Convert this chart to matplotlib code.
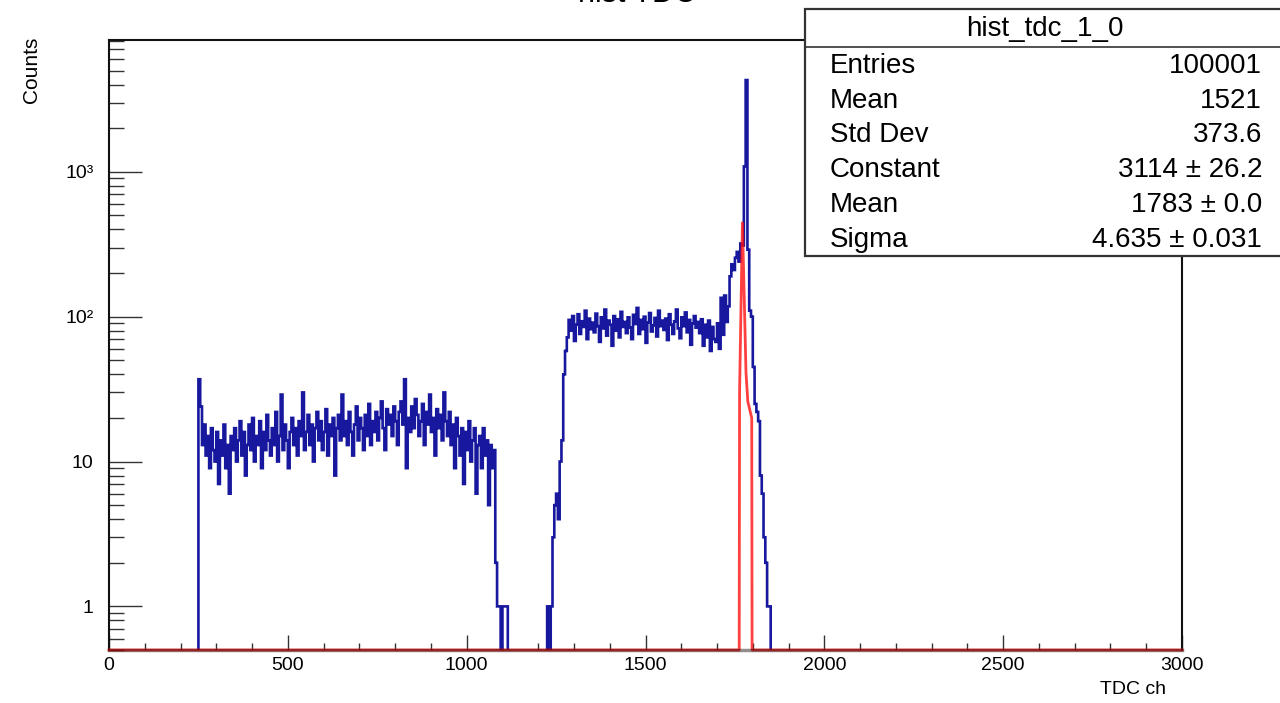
import numpy as np
import matplotlib
matplotlib.use('Agg')
import matplotlib.pyplot as plt
from matplotlib.patches import Rectangle
from matplotlib.lines import Line2D
from matplotlib.ticker import FixedLocator, FixedFormatter, NullFormatter, MultipleLocator, LogLocator

plt.rcParams['font.family'] = ['Liberation Sans', 'DejaVu Sans']

# ---------------- data ----------------
bin_width = 5
x_start = 250
counts = [
    37, 24, 13, 18, 11, 15, 9, 17, 12, 10, 16, 7, 14, 11, 18, 9, 13, 6, 15, 12,          # 250-350
    17, 10, 14, 19, 11, 16, 8, 13, 18, 12, 20, 10, 15, 13, 19, 9, 16, 12, 21, 14,         # 350-450
    11, 17, 13, 22, 10, 15, 29, 12, 18, 14, 9, 16, 20, 13, 17, 11, 19, 15, 30, 12,        # 450-550
    16, 21, 13, 18, 10, 17, 22, 14, 19, 12, 16, 23, 11, 18, 15, 20, 8, 17, 21, 14,        # 550-650
    29, 15, 19, 13, 22, 16, 11, 18, 24, 14, 20, 17, 12, 21, 15, 25, 13, 19, 16, 22,       # 650-750
    14, 20, 26, 17, 12, 23, 18, 21, 15, 24, 19, 13, 22, 26, 18, 37, 9, 20, 16, 24,        # 750-850
    17, 27, 21, 15, 19, 25, 13, 22, 18, 29, 16, 20, 11, 23, 17, 21, 14, 30, 19, 15,       # 850-950
    22, 13, 18, 9, 20, 15, 11, 17, 7, 16, 12, 19, 10, 14, 17, 6, 13, 15, 9, 17,           # 950-1050
    11, 14, 5, 13, 9, 12, 2, 1, 1, 0, 1, 1, 1, 0, 0, 0, 0, 0, 0, 0,                       # 1050-1150
    0, 0, 0, 0, 0, 0, 0, 0, 0, 0, 0, 0, 0, 0, 0, 1, 0, 1, 3, 5,                           # 1150-1250
    6, 4, 10, 14, 40, 58, 72, 95, 80, 101, 68, 88, 104, 76, 93, 85, 110, 70, 97, 82,      # 1250-1350
    91, 78, 105, 86, 67, 99, 83, 112, 74, 94, 88, 63, 101, 80, 96, 72, 108, 85, 92, 77,   # 1350-1450
    99, 84, 70, 103, 89, 115, 76, 95, 82, 100, 66, 91, 106, 79, 87, 98, 73, 110, 86, 94,  # 1450-1550
    81, 97, 69, 104, 88, 76, 93, 112, 83, 71, 99, 86, 107, 78, 95, 64, 90, 101, 84, 92,   # 1550-1650
    77, 96, 63, 88, 72, 94, 58, 85, 70, 67, 90, 60, 135, 75, 140, 92, 118, 190, 230, 210, # 1650-1750
    255, 280, 240, 320, 310, 1090, 4300, 290, 110, 100, 45, 25, 22, 19, 8, 6, 3, 2, 1, 1, # 1750-1850
]
fit_x = [0, 1762, 1763, 1771, 1776, 1781, 1786, 1797, 1798, 3000]
fit_y = [0.5, 0.5, 30, 445, 137, 41, 26, 20, 0.5, 0.5]

x_ticks = [0, 500, 1000, 1500, 2000, 2500, 3000]
y_ticks = [1, 10, 100, 1000]
y_tick_labels = ['1', '10', '10\u00b2', '10\u00b3']

hist_title = 'hist TDC'
stats_name = 'hist_tdc_1_0'
stats_labels = ['Entries', 'Mean', 'Std Dev', 'Constant', 'Mean', 'Sigma']
stats_values = ['100001', '1521', '373.6', '3114 \u00b1 26.2', '1783 \u00b1 0.0', '4.635 \u00b1 0.031']

# ---------------- figure ----------------
W, H = 1280, 703
fig = plt.figure(figsize=(W / 100, H / 100), dpi=100)
ax = fig.add_axes([109 / W, 1 - 650 / H, (1182 - 109) / W, (650 - 40) / H])
ax.set_yscale('log')
ax.set_xlim(0, 3000)
ax.set_ylim(0.5, 8130)

edges = np.arange(0, 3000 + bin_width, bin_width)
full = np.zeros(len(edges) - 1)
i0 = x_start // bin_width
full[i0:i0 + len(counts)] = counts
plot_vals = np.where(full > 0, full, 1e-3)
ax.stairs(plot_vals, edges, color='#18189e', lw=1.9, baseline=None, zorder=3)

ax.plot(fit_x, fit_y, color='#ff1010', lw=2.0, alpha=0.8, clip_on=False, zorder=6)

for s in ax.spines.values():
    s.set_linewidth(1.5)
    s.set_color('#111111')
ax.spines['bottom'].set_color((0.1, 0.0, 0.0, 0.45))
ax.spines['bottom'].set_linewidth(2.5)
ax.spines['bottom'].set_zorder(7)

ax.xaxis.set_major_locator(FixedLocator(x_ticks))
ax.xaxis.set_minor_locator(MultipleLocator(100))
ax.yaxis.set_major_locator(FixedLocator(y_ticks))
ax.yaxis.set_major_formatter(FixedFormatter(y_tick_labels))
ax.yaxis.set_minor_locator(LogLocator(base=10, subs=np.arange(2, 10), numticks=20))
ax.yaxis.set_minor_formatter(NullFormatter())

ax.tick_params(axis='x', which='major', direction='in', length=10.5, width=1.0,
               top=False, labelsize=14, pad=5, color='#333333')
ax.tick_params(axis='x', which='minor', direction='in', length=5, width=1.0,
               top=False, color='#333333')
ax.tick_params(axis='y', which='major', direction='in', length=24, width=1.0,
               right=False, labelsize=14, pad=11, color='#333333')
ax.tick_params(axis='y', which='minor', direction='in', length=11, width=1.0,
               right=False, color='#333333')

fig.text(31 / W, 1 - 37 / H, 'Counts', rotation=90, ha='center', va='top', fontsize=15)
fig.text(1166 / W, 1 - 690 / H, 'TDC ch', ha='right', va='center', fontsize=14)
fig.text(637 / W, 1 - 1.5 / H, hist_title, ha='center', va='baseline', fontsize=22)

# stats box
box = Rectangle((805 / W, 1 - 256 / H), (1295 - 805) / W, (256 - 9) / H,
                transform=fig.transFigure, facecolor='white', edgecolor='#333333',
                lw=1.6, zorder=10)
fig.add_artist(box)
sep = Line2D([805 / W, 1280 / W], [1 - 47 / H, 1 - 47 / H], transform=fig.transFigure,
             color='#333333', lw=1.2, zorder=11)
fig.add_artist(sep)
t = fig.text(1045 / W, 1 - 29 / H, stats_name, ha='center', va='center', fontsize=20)
t.set_zorder(12)
rows_y = [66, 101, 135, 170, 205, 240]
for lab, val, yy in zip(stats_labels, stats_values, rows_y):
    a = fig.text(830 / W, 1 - yy / H, lab, ha='left', va='center', fontsize=20)
    b = fig.text(1262 / W, 1 - yy / H, val, ha='right', va='center', fontsize=20)
    a.set_zorder(12)
    b.set_zorder(12)

fig.savefig('out.png', dpi=100)
